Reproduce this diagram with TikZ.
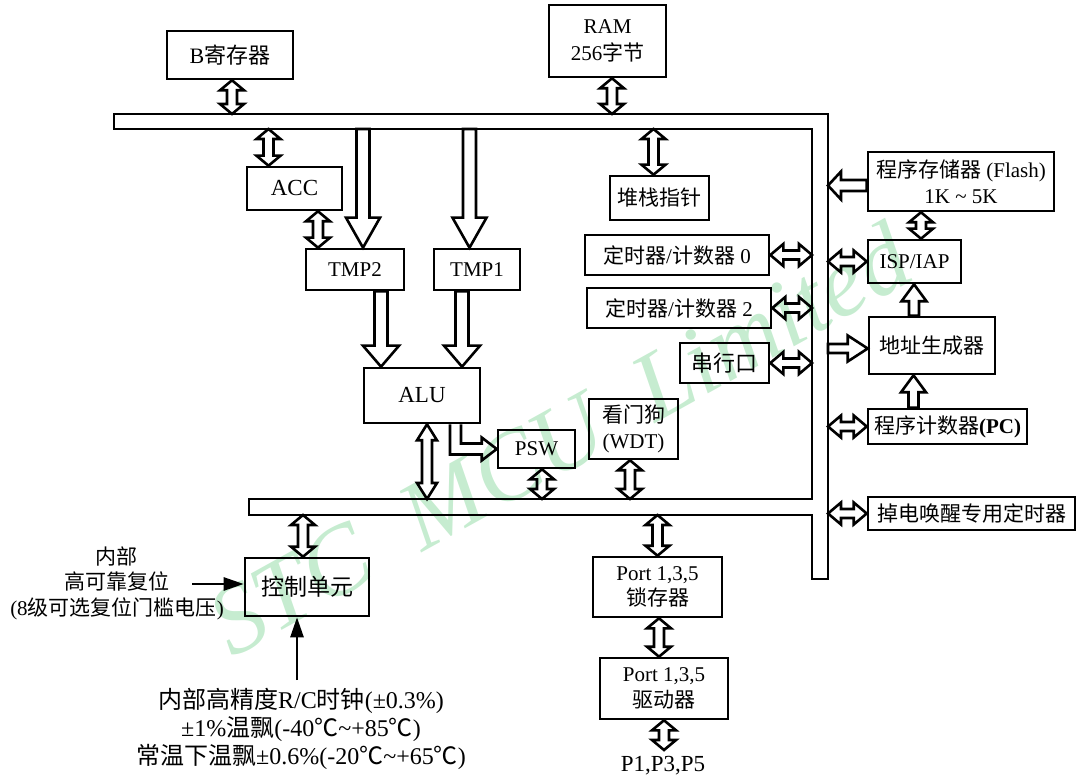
\documentclass[tikz,border=0pt]{standalone}
\usepackage{fontspec}
\setmainfont{Liberation Serif}
\newfontfamily\cjk{Noto Sans CJK SC}
\usetikzlibrary{arrows.meta,calc}

\definecolor{wmgreen}{RGB}{198,236,208}

\newcommand{\zh}[1]{{\cjk #1}}

% head length, head half width, shaft half width of the hollow arrows
\newcommand{\hdlen}{5pt}
\newcommand{\hdwid}{6pt}
\newcommand{\shwid}{2.5pt}
\newcommand{\arrsize}[3]{\def\hdlen{#1}\def\hdwid{#2}\def\shwid{#3}}

% vertical double arrow: [x shift]{end}{end}
\newcommand{\vdbl}[3][0pt]{%
  \draw[hollow] let \p1=(#2), \p2=(#3), \n1={sign(\y2-\y1)*\hdlen}, \n2={\x1+#1} in
    (\n2,\y1) -- (\n2+\hdwid,\y1+\n1) -- (\n2+\shwid,\y1+\n1)
    -- (\n2+\shwid,\y2-\n1) -- (\n2+\hdwid,\y2-\n1) -- (\n2,\y2)
    -- (\n2-\hdwid,\y2-\n1) -- (\n2-\shwid,\y2-\n1) -- (\n2-\shwid,\y1+\n1)
    -- (\n2-\hdwid,\y1+\n1) -- cycle;}
% horizontal double arrow: [y shift]{end}{end}
\newcommand{\hdbl}[3][0pt]{%
  \draw[hollow] let \p1=(#2), \p2=(#3), \n1={sign(\x2-\x1)*\hdlen}, \n2={\y1+#1} in
    (\x1,\n2) -- (\x1+\n1,\n2+\hdwid) -- (\x1+\n1,\n2+\shwid)
    -- (\x2-\n1,\n2+\shwid) -- (\x2-\n1,\n2+\hdwid) -- (\x2,\n2)
    -- (\x2-\n1,\n2-\hdwid) -- (\x2-\n1,\n2-\shwid) -- (\x1+\n1,\n2-\shwid)
    -- (\x1+\n1,\n2-\hdwid) -- cycle;}
% vertical single arrow: [x shift]{tail}{tip}
\newcommand{\varr}[3][0pt]{%
  \draw[hollow] let \p1=(#2), \p2=(#3), \n1={sign(\y2-\y1)*\hdlen}, \n2={\x1+#1} in
    (\n2-\shwid,\y1) -- (\n2-\shwid,\y2-\n1) -- (\n2-\hdwid,\y2-\n1) -- (\n2,\y2)
    -- (\n2+\hdwid,\y2-\n1) -- (\n2+\shwid,\y2-\n1) -- (\n2+\shwid,\y1) -- cycle;}
% horizontal single arrow: [y shift]{tail}{tip}
\newcommand{\harr}[3][0pt]{%
  \draw[hollow] let \p1=(#2), \p2=(#3), \n1={sign(\x2-\x1)*\hdlen}, \n2={\y1+#1} in
    (\x1,\n2-\shwid) -- (\x2-\n1,\n2-\shwid) -- (\x2-\n1,\n2-\hdwid) -- (\x2,\n2)
    -- (\x2-\n1,\n2+\hdwid) -- (\x2-\n1,\n2+\shwid) -- (\x1,\n2+\shwid) -- cycle;}

\tikzset{
  box/.style={draw, line width=1.3pt, inner sep=0pt, align=center},
  hollow/.style={draw, line width=1.3pt, line join=miter},
  busline/.style={draw, line width=1.1pt},
  thinarr/.style={line width=1.3pt, -{Triangle[length=10pt,width=6.5pt]}},
  watermark/.style={text=wmgreen, inner sep=0pt, font=\fontsize{49}{49}\selectfont\itshape}
}

\begin{document}
\begin{tikzpicture}[x=0.5pt, y=-0.5pt, font=\fontsize{10.5}{12.8}\selectfont]
  \useasboundingbox (0,0) rectangle (1079,779);

  % Watermark
  \node[watermark, rotate=29, anchor=base] (wm) at (575,468) {STC\ \ MCU\ \ Limited};

  % Bus
  \coordinate (bus_t) at (114,114);
  \coordinate (bus_b) at (114,129);
  \coordinate (low_t) at (249,499);
  \coordinate (low_b) at (249,515);
  \coordinate (bus_r) at (828,114);
  \coordinate (bus_ri) at (812,129);
  \draw[busline] (114,114) -- (828,114) -- (828,579) -- (812,579) -- (812,515)
    -- (249,515) -- (249,499) -- (812,499) -- (812,129) -- (114,129) -- cycle;

  % Above the bus
  \node[box, minimum width=63pt, minimum height=24pt, font=\fontsize{11}{13}\selectfont] (b_reg) at (230,55) {B\zh{寄存器}};
  \node[box, minimum width=58.5pt, minimum height=36pt] (ram) at (607.5,41) {RAM\\[1pt]256\zh{字节}};

  % Core
  \node[box, minimum width=47.5pt, minimum height=21.5pt, font=\fontsize{11.5}{13}\selectfont] (acc) at (294.5,188.5) {ACC};
  \node[box, minimum width=49pt, minimum height=20.5pt] (tmp_2) at (355,269.5) {TMP2};
  \node[box, minimum width=43pt, minimum height=20.5pt] (tmp_1) at (477,269.5) {TMP1};
  \node[box, minimum width=58pt, minimum height=27.5pt, font=\fontsize{11.5}{13}\selectfont] (alu) at (422,395.5) {ALU};
  \node[box, minimum width=38.5pt, minimum height=19pt] (psw) at (536.5,449) {PSW};

  % Peripherals inside the bus
  \node[box, minimum width=49.5pt, minimum height=22pt] (stack) at (659.5,198) {\zh{堆栈指针}};
  \node[box, minimum width=92pt, minimum height=20pt] (tc_0) at (677,255) {\zh{定时器}/\zh{计数器} 0};
  \node[box, minimum width=92pt, minimum height=20pt] (tc_2) at (679,308) {\zh{定时器}/\zh{计数器} 2};
  \node[box, minimum width=44.5pt, minimum height=20pt, font=\fontsize{11}{13}\selectfont] (uart) at (724.5,363) {\zh{串行口}};
  \node[box, minimum width=44.5pt, minimum height=30pt] (wdt) at (633.5,429) {\zh{看门狗}\\(WDT)};

  % Right of the bus
  \node[box, minimum width=93pt, minimum height=29.5pt] (flash) at (961,181.5) {\zh{程序存储器} (Flash)\\1K \textasciitilde{} 5K};
  \node[box, minimum width=46.5pt, minimum height=21.5pt] (isp) at (914.5,261.5) {ISP/IAP};
  \node[box, minimum width=63pt, minimum height=28.5pt] (addr) at (932,345.5) {\zh{地址生成器}};
  \node[box, minimum width=79.5pt, minimum height=17.5pt] (pc) at (947.5,426.5) {\zh{程序计数器}\textbf{(PC)}};
  \node[box, minimum width=103.5pt, minimum height=16.5pt] (pd_timer) at (971.5,513.5) {\zh{掉电唤醒专用定时器}};

  % Below the bus
  \node[box, minimum width=62pt, minimum height=29pt, font=\fontsize{11.5}{13}\selectfont] (ctrl) at (307,587) {\zh{控制单元}};
  \node[box, minimum width=64.5pt, minimum height=30pt] (latch) at (657.5,587) {Port 1,3,5\\\zh{锁存器}};
  \node[box, minimum width=64pt, minimum height=30.5pt] (drv) at (664,688.5) {Port 1,3,5\\\zh{驱动器}};
  \node[anchor=north, inner sep=3pt, font=\fontsize{11.5}{13}\selectfont] (ports) at (663,750) {P1,P3,P5};

  \node[align=center] (rst_txt) at (117,583) {\zh{内部}\\\zh{高可靠复位}\\(8\zh{级可选复位门槛电压})};
  \node[align=center, font=\fontsize{12}{14}\selectfont] (clk_txt) at (301,729)
    {\zh{内部高精度}R/C\zh{时钟}(±0.3\%)\\±1\%\zh{温飘}(-40\zh{℃}\textasciitilde+85\zh{℃})\\\zh{常温下温飘}±0.6\%(-20\zh{℃}\textasciitilde+65\zh{℃})};

  \coordinate (rst_in) at (192,584);
  \coordinate (clk_in) at (297,680);
  \draw[thinarr] (rst_in) -- (rst_in -| ctrl.west);
  \draw[thinarr] (clk_in) -- (clk_in |- ctrl.south);

  % Vertical double arrows
  \arrsize{5pt}{6pt}{2.5pt}
  \vdbl[1pt]{b_reg.south}{b_reg.south |- bus_t}
  \vdbl[2.25pt]{ram.south}{ram.south |- bus_t}
  \vdbl[-13pt]{acc.north |- bus_b}{acc.north}
  \vdbl[11.75pt]{acc.south}{acc.south |- tmp_2.north}
  \vdbl[-3pt]{stack.north |- bus_b}{stack.north}
  \vdbl[-20pt]{flash.south}{flash.south |- isp.north}
  \vdbl[2.75pt]{psw.south}{psw.south |- low_t}
  \vdbl[-1.75pt]{wdt.south}{wdt.south |- low_t}
  \vdbl[-2pt]{ctrl.north |- low_b}{ctrl.north}
  \vdbl{latch.north |- low_b}{latch.north}
  \vdbl[0.75pt]{latch.south}{latch.south |- drv.north}
  \vdbl{drv.south}{ports.north}
  \arrsize{8pt}{5pt}{2.5pt}
  \vdbl[2.5pt]{alu.south}{alu.south |- low_t}

  % Horizontal double arrows
  \arrsize{6.5pt}{5.5pt}{2.25pt}
  \hdbl{tc_0.east}{tc_0.east -| bus_ri}
  \hdbl{tc_2.east}{tc_2.east -| bus_ri}
  \hdbl{uart.east}{uart.east -| bus_ri}
  \hdbl{isp.west -| bus_r}{isp.west}
  \hdbl{pc.west -| bus_r}{pc.west}
  \hdbl{pd_timer.west -| bus_r}{pd_timer.west}

  % Single arrows
  \arrsize{15pt}{8.5pt}{3.25pt}
  \varr[4pt]{tmp_2.north |- bus_b}{tmp_2.north}
  \varr[-3.75pt]{tmp_1.north |- bus_b}{tmp_1.north}
  \arrsize{10.5pt}{9pt}{3.25pt}
  \varr[13pt]{tmp_2.south}{tmp_2.south |- alu.north}
  \varr[-7.5pt]{tmp_1.south}{tmp_1.south |- alu.north}
  \arrsize{8.5pt}{6.25pt}{2.5pt}
  \varr[-9pt]{addr.north}{isp.south}
  \varr[-17pt]{pc.north}{addr.south}
  \arrsize{6.5pt}{7pt}{2.75pt}
  \harr[-2pt]{flash.west}{flash.west -| bus_r}
  \arrsize{10pt}{6.5pt}{2.25pt}
  \harr[-1.5pt]{addr.west -| bus_r}{addr.west}

  % ALU to PSW
  \draw[hollow] let \p1=(alu.south), \p2=(psw.west) in
    (\x1+14pt,\y1) -- (\x1+14pt,\y2-2.75pt) -- (\x2-7.5pt,\y2-2.75pt) -- (\x2-7.5pt,\y2-5.75pt)
    -- (\p2) -- (\x2-7.5pt,\y2+5.75pt) -- (\x2-7.5pt,\y2+2.75pt) -- (\x1+19.5pt,\y2+2.75pt)
    -- (\x1+19.5pt,\y1);
\end{tikzpicture}
\end{document}
